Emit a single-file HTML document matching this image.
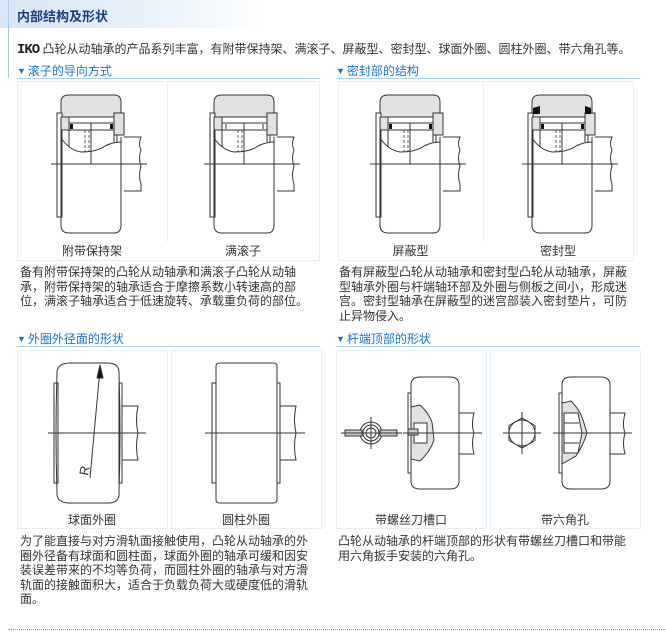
<!DOCTYPE html>
<html><head><meta charset="utf-8">
<style>
body{margin:0;background:#fff;width:666px;height:632px;position:relative;overflow:hidden;font-family:"Liberation Sans","Noto Sans CJK SC",sans-serif;}
.a{position:absolute;white-space:nowrap;}
.title{left:0;top:0;width:666px;height:28px;background:linear-gradient(90deg,#d6e6f5 0%,#eaf2fa 25%,#fff 40%);}
.title span{position:absolute;left:17px;top:6px;font-size:13px;font-weight:bold;color:#1b3f7c;}
.lline{left:8px;top:0;width:1px;height:78px;background:#a8cbe8;}
.intro{left:17px;top:40px;font-size:12px;color:#333;}
.intro b{font-family:"Liberation Mono",monospace;font-size:14px;font-weight:bold;color:#222;letter-spacing:-1px;}
.h{font-size:12px;color:#1a72c8;}
.h i{font-style:normal;font-size:9px;color:#1a72c8;margin-right:2px;position:relative;top:-1px;}
.ul{height:1px;background:#a8d0f0;}
.p{border:1px solid #e6eef6;background:none;}
.lab{font-size:12px;color:#333;text-align:center;}
.txt{font-size:12px;color:#333;line-height:14.6px;white-space:normal;}
svg{position:absolute;left:0;top:0;}
</style></head><body>
<div class="a title"><span>内部结构及形状</span></div>
<div class="a lline"></div>
<div class="a intro"><b>IKO</b> 凸轮从动轴承的产品系列丰富，有附带保持架、满滚子、屏蔽型、密封型、球面外圈、圆柱外圈、带六角孔等。</div>

<div class="a h" style="left:17px;top:62px"><i>▼</i>滚子的导向方式</div>
<div class="a ul" style="left:17px;top:78px;width:303px"></div>
<div class="a h" style="left:336px;top:62px"><i>▼</i>密封部的结构</div>
<div class="a ul" style="left:336px;top:78px;width:304px"></div>

<div class="a p" style="left:17px;top:81px;width:301px;height:178px"></div>
<div class="a p" style="left:338px;top:81px;width:294px;height:178px"></div>
<div class="a" style="left:167px;top:82px;width:1px;height:160px;background:#e6eef6"></div>
<div class="a" style="left:483px;top:82px;width:1px;height:160px;background:#e6eef6"></div>

<div class="a h" style="left:17px;top:330px"><i>▼</i>外圈外径面的形状</div>
<div class="a ul" style="left:17px;top:346px;width:303px"></div>
<div class="a h" style="left:336px;top:330px"><i>▼</i>杆端顶部的形状</div>
<div class="a ul" style="left:336px;top:346px;width:304px"></div>

<div class="a p" style="left:17px;top:350px;width:149px;height:177px"></div>
<div class="a p" style="left:171px;top:350px;width:149px;height:177px"></div>
<div class="a p" style="left:336px;top:350px;width:149px;height:177px"></div>
<div class="a p" style="left:490px;top:350px;width:149px;height:177px"></div>

<svg width="666" height="632" viewBox="0 0 666 632">
<defs>
<g id="brg" fill="none" stroke="#333" stroke-width="1">
<path d="M44,37 L44,22 Q44,15 52,15 L97,15 Q104,15 104,22 L104,37 Z" fill="#e2e2e2"/>
<rect x="40" y="33" width="5" height="104" fill="#fff"/>
<path d="M44,37 L52,37 L52,50 L44,50" fill="#e2e2e2"/>
<rect x="97" y="33" width="10" height="22" fill="#e2e2e2"/>
<path d="M44,37 L44,145 Q44,153 52,153 L97,153 Q104,153 104,145 L104,57"/>
<rect x="52" y="43" width="45" height="7" fill="#fff"/>
<path d="M52,50 L52,67 M97,50 L97,62 M100,55 L100,62"/>
<path d="M44,58 Q52,70 64,72 Q80,72 88,66 Q96,62 104,62"/>
<path d="M68,50 L68,72 M72,50 L72,72" stroke-dasharray="3,2" stroke-width="0.8"/>
<path d="M74,43 L74,84"/>
<path d="M34,84 L130,84"/>
<path d="M107,57 L124,57 Q121,64 124,70 Q121,78 124,86 Q121,96 124,104 L124,111 L107,111"/>
</g>
</defs>
<g transform="translate(17,80)"><use href="#brg"/><rect x="53" y="44" width="3" height="5" fill="#111"/><rect x="93" y="44" width="3" height="5" fill="#111"/></g>
<g transform="translate(170,80)"><use href="#brg"/><path d="M56,44 L56,49 M93,44 L93,49" stroke="#333" fill="none"/></g>
<g transform="translate(336,80)"><use href="#brg"/><rect x="53" y="44" width="3" height="5" fill="#111"/><rect x="93" y="44" width="3" height="5" fill="#111"/></g>
<g transform="translate(488,80)"><use href="#brg"/><rect x="53" y="44" width="3" height="5" fill="#111"/><rect x="93" y="44" width="3" height="5" fill="#111"/><path d="M45,28 L52,26 L52,34 L45,34 Z M97,26 L103,28 L103,34 L97,34 Z" fill="#111"/></g>

<g fill="none" stroke="#333" stroke-width="1">
<path d="M57,375 Q56,363 70,363 L108,363 Q120,363 119,375 Q121,433 119,492 Q120,503 108,503 L70,503 Q56,503 57,492 Q55,433 57,375 Z" fill="#fff"/>
<rect x="54" y="383" width="4" height="100"/>
<rect x="119" y="383" width="3" height="100"/>
<path d="M122,406 L138,406 Q135,420 138,433 Q135,447 138,460 L122,460"/>
<path d="M48,433 L146,433"/>
<path d="M90,478 L100,369"/>
<path d="M100,365 L97,378 L103,378 Z" fill="#111"/>
<path d="M216,366 Q216,363 220,363 L273,363 Q277,363 277,366 L277,500 Q277,503 273,503 L220,503 Q216,503 216,500 Z" fill="#fff"/>
<rect x="212" y="383" width="4" height="100"/>
<rect x="277" y="383" width="3" height="100"/>
<path d="M280,406 L296,406 Q293,420 296,433 Q293,447 296,460 L280,460"/>
<path d="M205,433 L305,433"/>
<path d="M411,385 Q411,377 420,377 L450,377 Q459,377 459,385 L459,481 Q459,489 450,489 L420,489 Q411,489 411,481 Z" fill="#fff"/>
<rect x="408" y="393" width="3" height="80"/>
<path d="M411,407 L420,405 Q428,412 432,422 L434,440 Q430,452 420,461 L411,459 Z" fill="#e2e2e2"/>
<rect x="414" y="423" width="13" height="20" fill="#fff"/>
<rect x="408" y="429" width="10" height="6" fill="#ccc"/>
<path d="M459,413 L474,413 Q471,425 474,433 Q471,443 474,454 L459,454"/>
<path d="M403,433 L482,433"/>
<circle cx="371" cy="433" r="11"/><circle cx="371" cy="433" r="8"/><circle cx="371" cy="433" r="5"/>
<rect x="345" y="430" width="17" height="6" fill="#ccc"/><rect x="380" y="430" width="17" height="6" fill="#ccc"/>
<path d="M341,433 L402,433 M371,417 L371,449"/>
<path d="M562,385 Q562,377 571,377 L601,377 Q610,377 610,385 L610,481 Q610,489 601,489 L571,489 Q562,489 562,481 Z" fill="#fff"/>
<rect x="559" y="393" width="3" height="80"/>
<path d="M562,403 L571,401 Q580,410 583,420 L587,433 Q583,446 576,456 L562,464 Z" fill="#e2e2e2"/>
<path d="M564,413 L578,413 L582,433 L578,453 L564,453 Z" fill="#fff"/>
<path d="M564,423 L579,423 M564,443 L579,443"/>
<path d="M610,413 L625,413 Q622,425 625,433 Q622,443 625,454 L610,454"/>
<path d="M553,433 L632,433"/>
<path d="M522,418 L535,425.5 L535,440.5 L522,448 L509,440.5 L509,425.5 Z"/>
<circle cx="522" cy="433" r="13"/>
<path d="M503,433 L541,433 M522,412 L522,454"/>
</g>
<text x="0" y="0" font-size="13" fill="#333" font-family="Liberation Sans,sans-serif" transform="translate(88,476) rotate(-80)">R</text>
</svg>

<div class="a lab" style="left:17px;top:242px;width:150px">附带保持架</div>
<div class="a lab" style="left:168px;top:242px;width:150px">满滚子</div>
<div class="a lab" style="left:338px;top:242px;width:145px">屏蔽型</div>
<div class="a lab" style="left:484px;top:242px;width:148px">密封型</div>

<div class="a txt" style="left:20px;top:265px;width:290px">备有附带保持架的凸轮从动轴承和满滚子凸轮从动轴承，附带保持架的轴承适合于摩擦系数小转速高的部位，满滚子轴承适合于低速旋转、承载重负荷的部位。</div>
<div class="a txt" style="left:339px;top:265px;width:290px">备有屏蔽型凸轮从动轴承和密封型凸轮从动轴承，屏蔽型轴承外圈与杆端轴环部及外圈与侧板之间小，形成迷宫。密封型轴承在屏蔽型的迷宫部装入密封垫片，可防止异物侵入。</div>

<div class="a lab" style="left:17px;top:511px;width:150px">球面外圈</div>
<div class="a lab" style="left:171px;top:511px;width:150px">圆柱外圈</div>
<div class="a lab" style="left:336px;top:511px;width:150px">带螺丝刀槽口</div>
<div class="a lab" style="left:490px;top:511px;width:150px">带六角孔</div>

<div class="a txt" style="left:20px;top:534px;width:292px">为了能直接与对方滑轨面接触使用，凸轮从动轴承的外圈外径备有球面和圆柱面，球面外圈的轴承可缓和因安装误差带来的不均等负荷，而圆柱外圈的轴承与对方滑轨面的接触面积大，适合于负载负荷大或硬度低的滑轨面。</div>
<div class="a txt" style="left:338px;top:534px;width:292px">凸轮从动轴承的杆端顶部的形状有带螺丝刀槽口和带能用六角扳手安装的六角孔。</div>

<div class="a" style="left:8px;top:629px;width:658px;border-top:1px dotted #999"></div>
</body></html>
